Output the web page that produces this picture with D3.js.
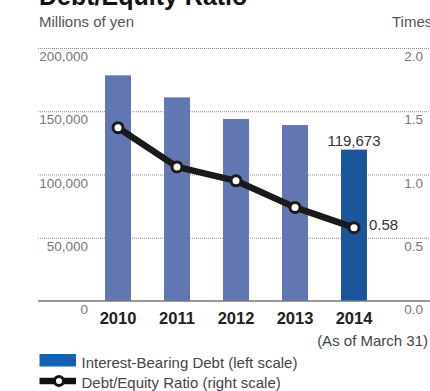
<!DOCTYPE html>
<html>
<head>
<meta charset="utf-8">
<script src="https://cdn.jsdelivr.net/npm/d3@7"></script>
<style>
  html, body { margin: 0; padding: 0; background: #fff; }
  svg { display: block; font-family: "Liberation Sans", Arial, Helvetica, sans-serif; }
</style>
</head>
<body>
<svg id="chart" width="430" height="391"></svg>
<script>
// Fiscal years (as of March 31)
const years = ["2010", "2011", "2012", "2013", "2014"];
// Interest-bearing debt, millions of yen
const debt = [178400, 161000, 143900, 139100, 119673];
// Debt/equity ratio, times
const ratio = [1.37, 1.06, 0.95, 0.74, 0.58];
// Axis ticks
const leftTicks = [0, 50000, 100000, 150000, 200000];
const rightTicks = [0, 0.5, 1.0, 1.5, 2.0];

const svg = d3.select("#chart");

const x = d3.scaleBand().domain(years).range([88.5, 383.5])
  .paddingInner(0.56).paddingOuter(0.28);
const yL = d3.scaleLinear().domain([0, 200000]).range([301, 48]);
const yR = d3.scaleLinear().domain([0, 2]).range([301, 48]);

const gridX0 = 38, gridX1 = 430;

// Title (partly above the frame)
svg.append("text").attr("x", 39).attr("y", 4.5)
  .attr("font-size", 25).attr("font-weight", "bold").attr("fill", "#111")
  .text("Debt/Equity Ratio");

// Unit captions
svg.append("text").attr("x", 39).attr("y", 27)
  .attr("font-size", 15).attr("fill", "#555").text("Millions of yen");
svg.append("text").attr("x", 392).attr("y", 27)
  .attr("font-size", 15).attr("fill", "#555").text("Times");

// Dotted gridlines
svg.append("g").selectAll("line").data(leftTicks.filter(d => d > 0)).join("line")
  .attr("x1", gridX0).attr("x2", gridX1)
  .attr("y1", d => yL(d) + 0.5).attr("y2", d => yL(d) + 0.5)
  .attr("stroke", "#8a8a8a").attr("stroke-width", 1).attr("stroke-dasharray", "1,1");

// Left tick labels
svg.append("g").selectAll("text").data(leftTicks).join("text")
  .attr("x", 88).attr("y", d => yL(d) + 13)
  .attr("text-anchor", "end").attr("font-size", 13.5).attr("fill", "#777")
  .text(d => d3.format(",")(d));

// Right tick labels
svg.append("g").selectAll("text").data(rightTicks).join("text")
  .attr("x", 423).attr("y", d => yR(d) + 13)
  .attr("text-anchor", "end").attr("font-size", 13.5).attr("fill", "#777")
  .text(d => d3.format(".1f")(d));

// Bars
svg.append("g").selectAll("rect").data(years).join("rect")
  .attr("x", d => x(d)).attr("width", x.bandwidth())
  .attr("y", (d, i) => yL(debt[i]))
  .attr("height", (d, i) => yL(0) - yL(debt[i]))
  .attr("fill", (d, i) => i === years.length - 1 ? "#1b559c" : "#6277b2");

// Baseline
svg.append("line").attr("x1", gridX0).attr("x2", gridX1)
  .attr("y1", yL(0)).attr("y2", yL(0))
  .attr("stroke", "#777").attr("stroke-width", 1.5);

// Year labels
svg.append("g").selectAll("text").data(years).join("text")
  .attr("x", d => x(d) + x.bandwidth() / 2).attr("y", 323.5)
  .attr("text-anchor", "middle").attr("font-size", 16.5).attr("font-weight", "bold")
  .attr("fill", "#222").text(d => d);

svg.append("text").attr("x", 428).attr("y", 346)
  .attr("text-anchor", "end").attr("font-size", 15).attr("fill", "#444")
  .text("(As of March 31)");

// Ratio line
const cx = (d) => x(d) + x.bandwidth() / 2;
const line = d3.line().x((d, i) => cx(years[i])).y(d => yR(d));
svg.append("path").datum(ratio).attr("d", line)
  .attr("fill", "none").attr("stroke", "#1a1a1a").attr("stroke-width", 6.5)
  .attr("stroke-linejoin", "round");
svg.append("g").selectAll("circle").data(ratio).join("circle")
  .attr("cx", (d, i) => cx(years[i])).attr("cy", d => yR(d)).attr("r", 5)
  .attr("fill", "#fff").attr("stroke", "#1a1a1a").attr("stroke-width", 3);

// Value labels for the latest year
const last = years.length - 1;
svg.append("text").attr("x", cx(years[last])).attr("y", yL(debt[last]) - 4)
  .attr("text-anchor", "middle").attr("font-size", 15).attr("fill", "#333")
  .text(d3.format(",")(debt[last]));
svg.append("text").attr("x", cx(years[last]) + 15).attr("y", yR(ratio[last]) + 2)
  .attr("font-size", 15).attr("fill", "#333")
  .text(d3.format(".2f")(ratio[last]));

// Legend
const lg = svg.append("g");
lg.append("rect").attr("x", 39.5).attr("y", 354).attr("width", 36.5).attr("height", 12.5)
  .attr("fill", "#1662b2");
lg.append("text").attr("x", 81.5).attr("y", 368).attr("font-size", 15).attr("fill", "#444")
  .text("Interest-Bearing Debt (left scale)");
lg.append("line").attr("x1", 39.5).attr("x2", 76).attr("y1", 381).attr("y2", 381)
  .attr("stroke", "#111").attr("stroke-width", 6.5);
lg.append("circle").attr("cx", 59).attr("cy", 381).attr("r", 4.5)
  .attr("fill", "#fff").attr("stroke", "#111").attr("stroke-width", 3);
lg.append("text").attr("x", 81.5).attr("y", 388).attr("font-size", 15).attr("fill", "#444")
  .text("Debt/Equity Ratio (right scale)");
</script>
</body>
</html>
